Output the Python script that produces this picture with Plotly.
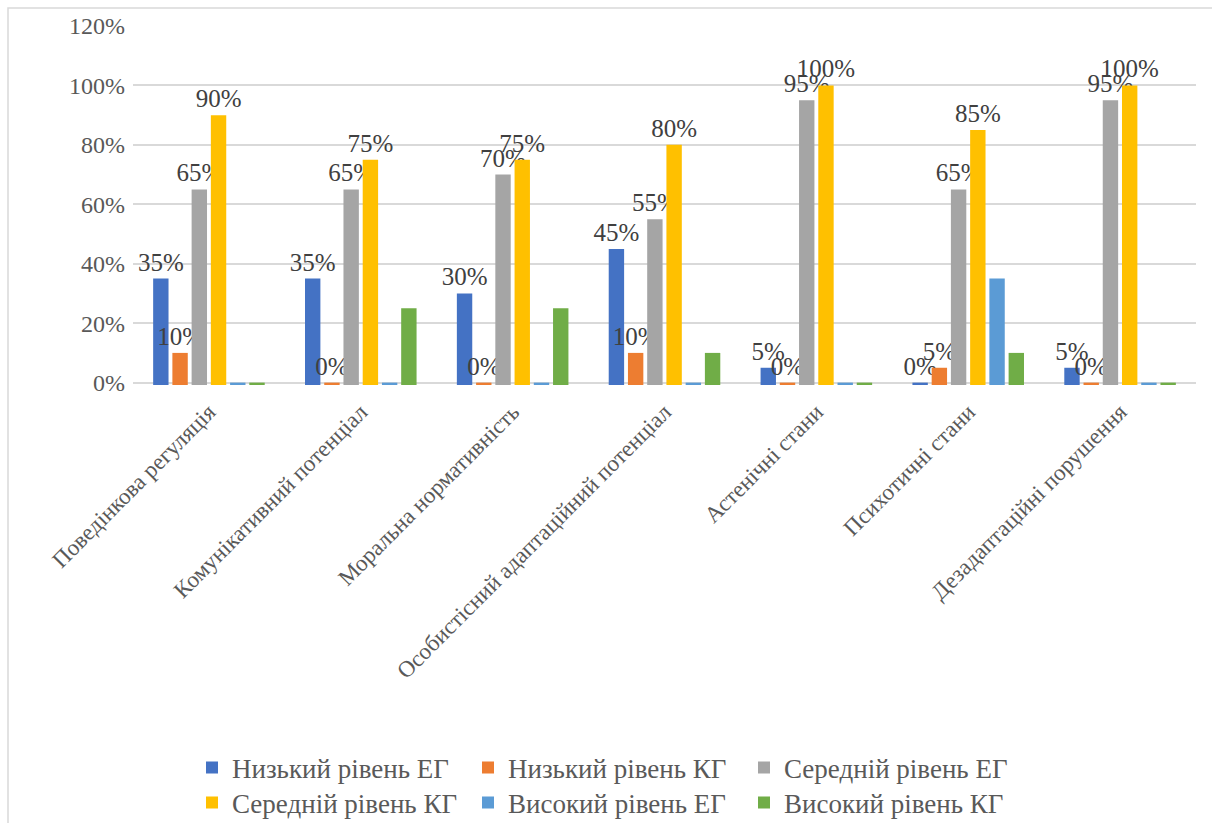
import plotly.graph_objects as go

categories = ["Поведінкова регуляція", "Комунікативний потенціал", "Моральна нормативність",
              "Особистісний адаптаційний потенціал", "Астенічні стани", "Психотичні стани",
              "Дезадаптаційні порушення"]
series_names = ["Низький рівень ЕГ", "Низький рівень КГ", "Середній рівень ЕГ",
                "Середній рівень КГ", "Високий рівень ЕГ", "Високий рівень КГ"]
low_eg = [35, 35, 30, 45, 5, 0, 5]
low_kg = [10, 0, 0, 10, 0, 5, 0]
mid_eg = [65, 65, 70, 55, 95, 65, 95]
mid_kg = [90, 75, 75, 80, 100, 85, 100]
high_eg = [0, 0, 0, 0, 0, 35, 0]
high_kg = [0, 25, 25, 10, 0, 10, 0]
colors = ["#4472C4", "#ED7D31", "#A5A5A5", "#FFC000", "#5B9BD5", "#70AD47"]
labelled = [True, True, True, True, False, False]
legend_rows = ["legend", "legend", "legend", "legend2", "legend2", "legend2"]
y_ticks = [0, 20, 40, 60, 80, 100, 120]

series = [low_eg, low_kg, mid_eg, mid_kg, high_eg, high_kg]
FONT = "Liberation Serif"
EPS = 0.8  # thin visible stub below the axis so that zero bars are drawn, as in the original

fig = go.Figure()
for name, vals, col, lab, lg in zip(series_names, series, colors, labelled, legend_rows):
    fig.add_trace(go.Bar(
        name=name, x=categories, y=[v + EPS for v in vals], base=-EPS,
        marker=dict(color=col, line=dict(width=0)),
        text=[f"{v}%" for v in vals] if lab else None,
        textposition="outside" if lab else "none",
        constraintext="none", cliponaxis=False,
        textfont=dict(family=FONT, size=25, color="#404040"),
        hoverinfo="skip", legend=lg,
    ))

W, H = 1212, 823
L, R, T, B = 133, 16, 26, 438
pw, ph = W - L - R, H - T - B
def px(x):
    return (x - L) / pw
def py(y):
    return (H - B - y) / ph

legend_style = dict(orientation="h", xanchor="left", yref="container", yanchor="middle",
                    entrywidth=231, entrywidthmode="pixels", traceorder="normal",
                    font=dict(family=FONT, size=27, color="#595959"), itemwidth=30,
                    tracegroupgap=0, bgcolor="rgba(0,0,0,0)")

fig.update_layout(
    width=W, height=H,
    margin=dict(l=L, r=R, t=T, b=B, autoexpand=False),
    paper_bgcolor="white", plot_bgcolor="white",
    barmode="group", bargap=0.24, bargroupgap=0.2,
    font=dict(family=FONT, color="#595959"),
    xaxis=dict(tickangle=-45, tickfont=dict(family=FONT, size=23, color="#595959"),
               showline=False, ticks="", showgrid=False, ticklabelstandoff=8,
               automargin=False),
    yaxis=dict(range=[-EPS, 120], tickvals=y_ticks, ticktext=[f"{t}%" for t in y_ticks],
               tickfont=dict(family=FONT, size=24, color="#595959"),
               showgrid=True, gridcolor="#D9D9D9", gridwidth=1.5,
               zeroline=False, automargin=False,
               showline=False, ticks="", ticklabelstandoff=7),
    legend=dict(legend_style, x=px(192), y=1 - 768 / H),
    legend2=dict(legend_style, x=px(192), y=1 - 803 / H),
    shapes=[dict(type="rect", xref="paper", yref="paper",
                 x0=px(8), x1=px(1216), y0=py(8), y1=py(830),
                 line=dict(color="#D9D9D9", width=1.5), layer="below")],
    showlegend=True,
)

fig.write_html("out.html")
